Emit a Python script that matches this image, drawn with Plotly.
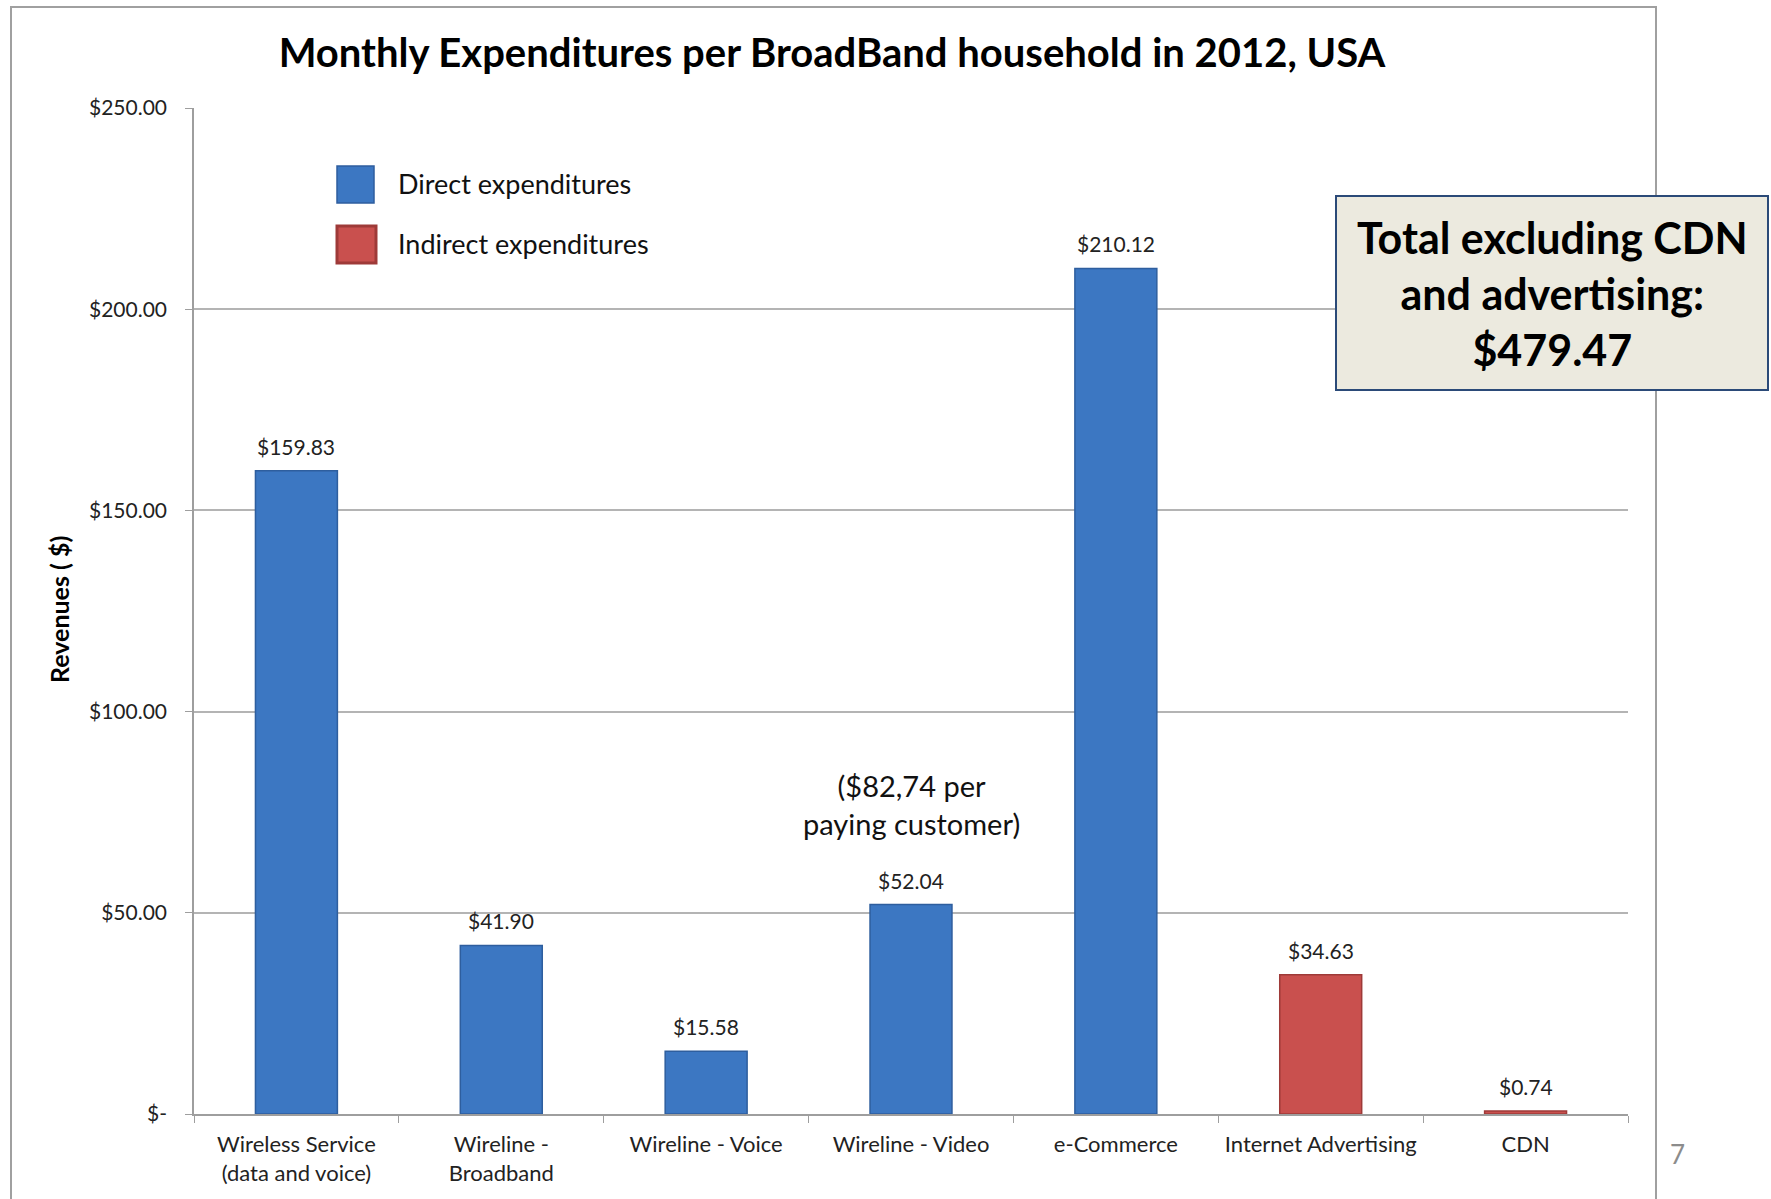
import plotly.graph_objects as go

# Monthly expenditures per broadband household, USA 2012
categories = [
    "Wireless Service<br>(data and voice)",
    "Wireline -<br>Broadband",
    "Wireline - Voice",
    "Wireline - Video",
    "e-Commerce",
    "Internet Advertising",
    "CDN",
]
direct_values = [159.83, 41.90, 15.58, 52.04, 210.12, None, None]
indirect_values = [None, None, None, None, None, 34.63, 0.74]
y_tick_vals = [0, 50, 100, 150, 200, 250]
y_tick_text = ["$-", "$50.00", "$100.00", "$150.00", "$200.00", "$250.00"]
total_excl_cdn_ads = 479.47

W, H = 1771, 1199
L, R, T, B = 194, 143, 108, 85
PW, PH = W - L - R, H - T - B

BLUE = "#3C77C2"
BLUE_EDGE = "#2E5E9E"
RED = "#C9504E"
RED_EDGE = "#9E3A38"
FONT = "Lato"


def px(x):
    return (x - L) / PW


def py(y):
    return (H - B - y) / PH


fig = go.Figure()
fig.add_trace(go.Bar(
    x=categories, y=direct_values, width=0.4, name="Direct expenditures",
    marker=dict(color=BLUE, line=dict(color=BLUE_EDGE, width=1.5)),
    showlegend=False,
))
fig.add_trace(go.Bar(
    x=categories, y=indirect_values, width=0.4, name="Indirect expenditures",
    marker=dict(color=RED, line=dict(color=RED_EDGE, width=1.5)),
    showlegend=False,
))

annotations = []
# value labels above each bar
for series in (direct_values, indirect_values):
    for cat, v in zip(categories, series):
        if v is None:
            continue
        annotations.append(dict(
            x=cat, y=v, xref="x", yref="y", text=f"${v:.2f}",
            showarrow=False, xanchor="center", yanchor="bottom", yshift=10,
            font=dict(family=FONT, size=21, color="#222222"),
        ))

# note on the video bar
annotations.append(dict(
    x=categories[3], y=77, xref="x", yref="y",
    text="($82,74 per<br>paying customer)", showarrow=False,
    xanchor="center", yanchor="middle",
    font=dict(family=FONT, size=29, color="#111111"), align="center",
))

# legend entries
annotations += [
    dict(x=px(396), y=py(183), xref="paper", yref="paper", text="Direct expenditures",
         showarrow=False, xanchor="left", yanchor="middle",
         font=dict(family=FONT, size=27, color="#111111")),
    dict(x=px(396), y=py(244), xref="paper", yref="paper", text="Indirect expenditures",
         showarrow=False, xanchor="left", yanchor="middle",
         font=dict(family=FONT, size=27, color="#111111")),
]

# y axis title
annotations.append(dict(
    x=px(59), y=py(610), xref="paper", yref="paper", text="<b>Revenues ( $)</b>",
    showarrow=False, textangle=-90, xanchor="center", yanchor="middle",
    font=dict(family=FONT, size=25, color="#000000"),
))

# total box
annotations.append(dict(
    x=px(1552), y=py(293), xref="paper", yref="paper",
    text=f"<b>Total excluding CDN<br>and advertising:<br>${total_excl_cdn_ads:.2f}</b>",
    showarrow=False, align="center", xanchor="center", yanchor="middle",
    font=dict(family=FONT, size=43, color="#000000"),
))

# page number
annotations.append(dict(
    x=px(1677), y=py(1154), xref="paper", yref="paper", text="7",
    showarrow=False, xanchor="center", yanchor="middle",
    font=dict(family=FONT, size=26, color="#8C8C8C"),
))

shapes = [
    # slide frame
    dict(type="rect", xref="paper", yref="paper",
         x0=px(11), x1=px(1656), y0=py(1215), y1=py(7),
         line=dict(color="#A0A0A0", width=2), layer="below"),
    # legend swatches
    dict(type="rect", xref="paper", yref="paper",
         x0=px(337), x1=px(374), y0=py(203), y1=py(166),
         fillcolor=BLUE, line=dict(color=BLUE_EDGE, width=1.5)),
    dict(type="rect", xref="paper", yref="paper",
         x0=px(337), x1=px(376), y0=py(263), y1=py(226),
         fillcolor=RED, line=dict(color=RED_EDGE, width=3)),
    # total box background
    dict(type="rect", xref="paper", yref="paper",
         x0=px(1336), x1=px(1768), y0=py(390), y1=py(196),
         fillcolor="#ECEADF", line=dict(color="#2B4A78", width=2)),
]

fig.update_layout(
    width=W, height=H,
    margin=dict(l=L, r=R, t=T, b=B, autoexpand=False),
    paper_bgcolor="white", plot_bgcolor="white",
    barmode="overlay",
    title=dict(
        text="<b>Monthly Expenditures per BroadBand household in 2012, USA</b>",
        x=832 / W, xref="container", xanchor="center",
        y=1 - 53 / H, yref="container", yanchor="middle",
        font=dict(family=FONT, size=40, color="#000000"),
    ),
    xaxis=dict(
        showline=True, linecolor="#9E9E9E", linewidth=1.5,
        ticks="outside", tickson="boundaries", ticklen=7, tickcolor="#9E9E9E",
        tickfont=dict(family=FONT, size=22, color="#222222"),
        ticklabelstandoff=10,
        showgrid=False,
    ),
    yaxis=dict(
        range=[0, 250], tickvals=y_tick_vals, ticktext=y_tick_text,
        showline=True, linecolor="#9E9E9E", linewidth=1.5,
        ticks="outside", ticklen=7, tickcolor="#9E9E9E",
        ticklabelstandoff=14,
        showgrid=True, gridcolor="#B4B4B4", gridwidth=1.5,
        zeroline=False,
        tickfont=dict(family=FONT, size=21, color="#222222"),
    ),
    shapes=shapes,
    annotations=annotations,
)

fig.write_html("out.html")
